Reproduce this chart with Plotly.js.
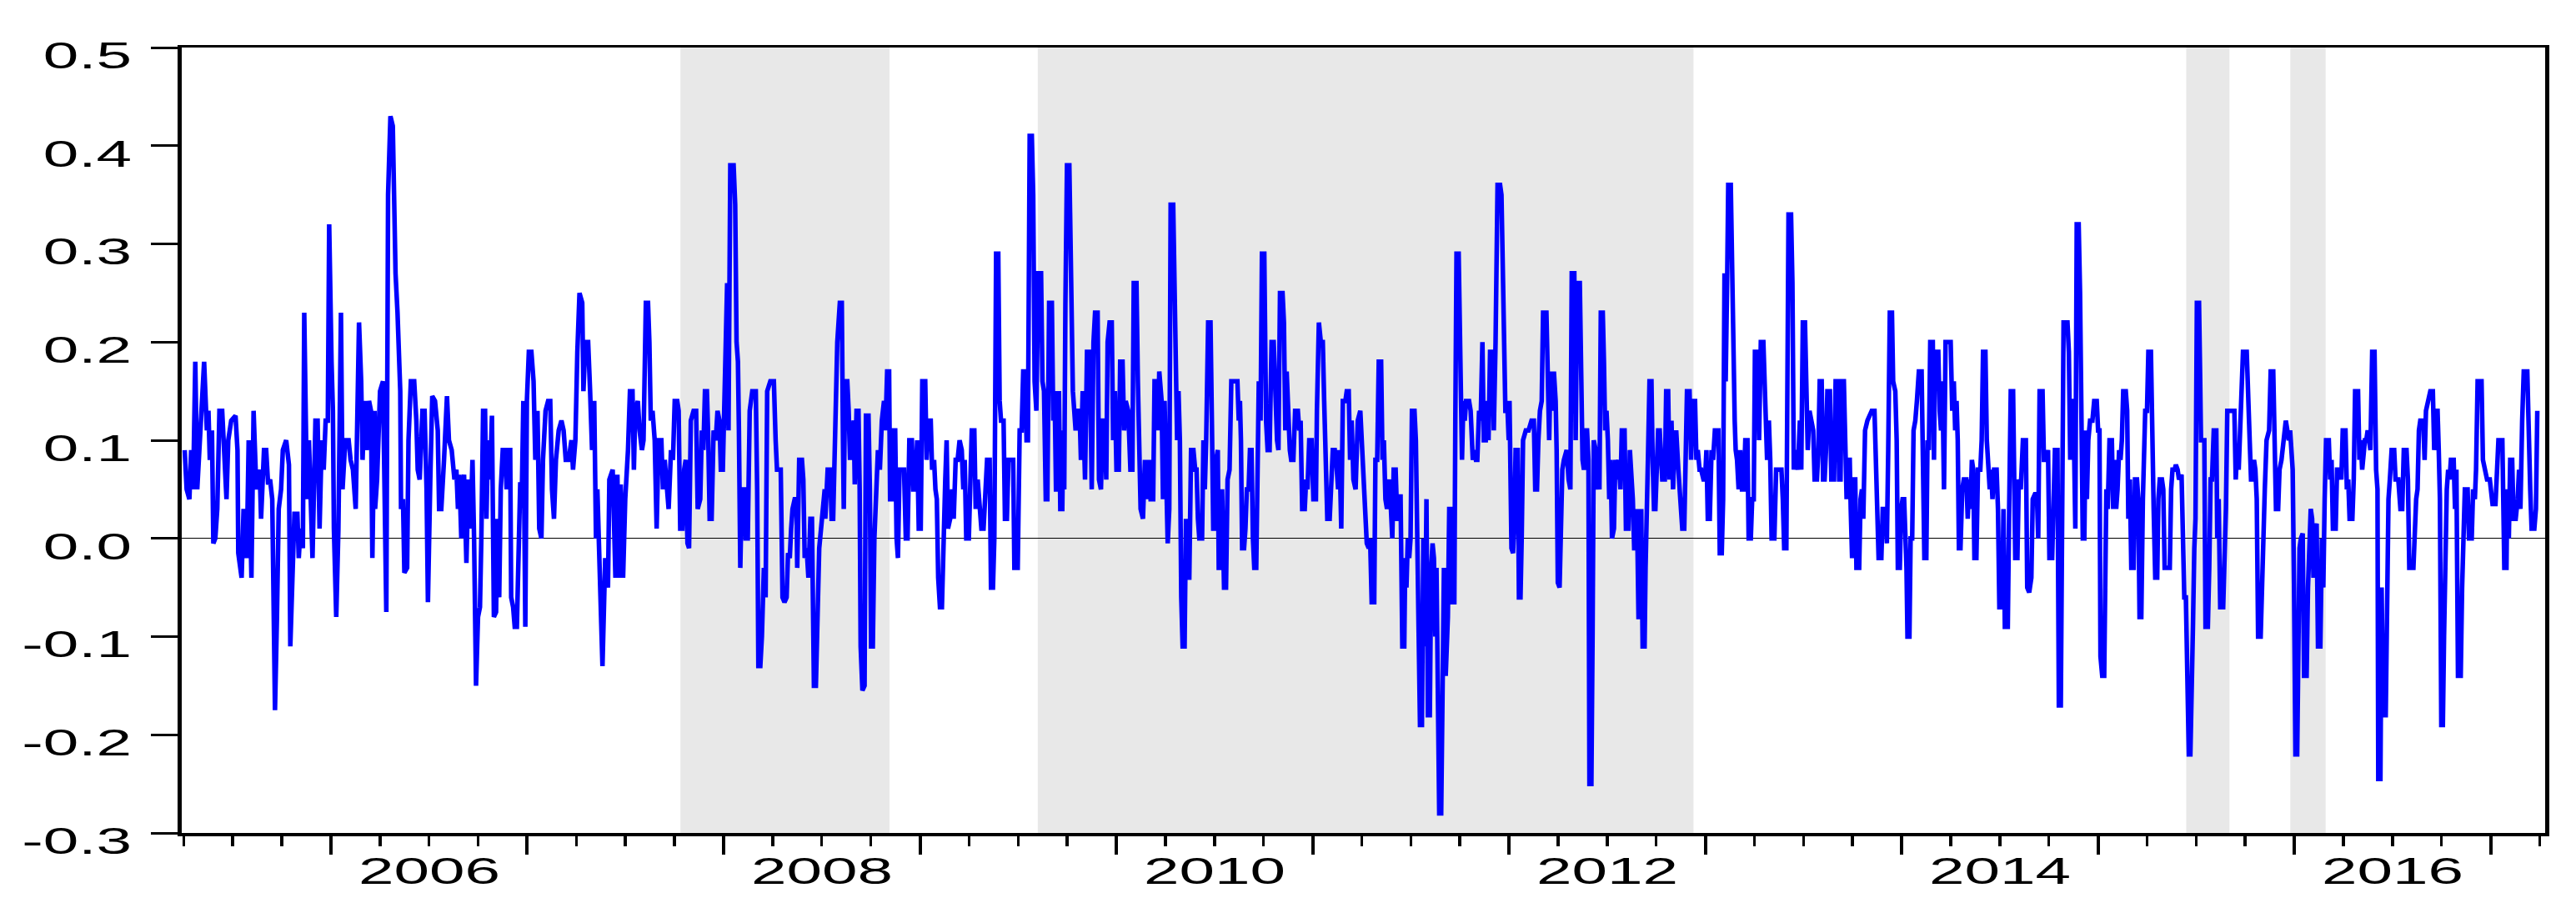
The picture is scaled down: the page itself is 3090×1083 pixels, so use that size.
<!DOCTYPE html>
<html>
<head>
<meta charset="utf-8">
<script src="https://cdn.plot.ly/plotly-3.0.1.min.js"></script>
<style>
  body { margin: 0; background: #fff; }
</style>
</head>
<body>
<div id="chart" style="width:3090px;height:1083px;"></div>
<script>
var obsTime = [
  2005.255,2005.265,2005.279,2005.288,2005.298,2005.309,2005.319,2005.333,2005.354,2005.368,2005.376,2005.383,2005.394,2005.401,2005.411,2005.421,2005.432,2005.446,2005.458,2005.468,2005.477,2005.492,2005.514,2005.524,2005.528,2005.545,2005.555,2005.567,2005.571,2005.581,2005.595,2005.606,2005.620,2005.637,2005.644,2005.659,2005.670,2005.680,2005.690,2005.701,2005.708,2005.715,2005.725,2005.734,2005.746,2005.755,2005.772,2005.786,2005.793,2005.803,2005.814,2005.829,2005.836,2005.845,2005.857,2005.864,2005.878,2005.888,2005.896,2005.906,2005.921,2005.932,2005.942,2005.953,2005.963,2005.973,2005.984,2005.991,
  2006.003,2006.010,2006.015,2006.027,2006.038,2006.051,2006.059,2006.073,2006.090,2006.100,2006.112,2006.126,2006.143,2006.154,2006.161,2006.171,2006.182,2006.194,2006.204,2006.211,2006.222,
  2006.225,2006.235,2006.250,2006.265,2006.282,2006.291,2006.303,2006.315,2006.322,2006.329,2006.339,2006.346,2006.353,2006.357,2006.367,2006.374,2006.388,2006.395,2006.407,2006.424,2006.435,2006.442,2006.452,2006.466,2006.477,2006.487,2006.494,2006.506,2006.516,2006.530,2006.544,2006.551,2006.562,2006.576,2006.591,2006.601,2006.615,2006.629,2006.639,2006.647,2006.654,2006.664,2006.678,2006.690,2006.700,2006.710,2006.721,2006.729,2006.739,2006.749,2006.759,2006.766,2006.775,2006.785,2006.792,2006.800,2006.810,2006.820,2006.830,2006.841,2006.848,2006.857,2006.865,2006.875,2006.886,2006.895,2006.905,2006.913,2006.918,2006.928,2006.936,2006.947,2006.956,2006.964,2006.973,2006.980,2006.990,2006.998,
  2007.008,2007.021,2007.032,2007.041,2007.052,2007.061,2007.072,2007.080,2007.093,2007.106,2007.117,2007.126,2007.136,2007.146,2007.160,2007.174,2007.185,2007.196,2007.211,2007.225,2007.233,2007.245,2007.255,2007.266,2007.280,2007.286,2007.296,2007.310,2007.320,2007.330,2007.341,
  2007.343,2007.350,2007.357,2007.367,2007.383,2007.397,2007.411,2007.418,2007.435,2007.449,2007.459,2007.468,2007.476,2007.488,2007.499,2007.513,2007.523,2007.536,2007.543,2007.550,2007.563,2007.572,2007.584,2007.592,2007.604,2007.615,2007.622,2007.629,2007.638,2007.649,2007.659,2007.669,2007.683,2007.691,2007.700,2007.708,2007.720,2007.732,2007.742,2007.751,2007.764,2007.771,2007.779,2007.790,2007.799,2007.807,2007.816,2007.824,2007.833,2007.847,2007.860,2007.868,2007.881,2007.889,2007.897,2007.905,2007.915,2007.922,2007.929,2007.939,2007.949,2007.960,2007.969,2007.979,2007.986,2007.996,
  2008.003,2008.010,2008.018,2008.025,2008.034,2008.051,2008.059,2008.066,2008.073,2008.078,2008.085,2008.093,2008.105,2008.112,2008.123,2008.133,2008.146,2008.164,2008.171,2008.177,2008.187,2008.195,2008.205,2008.214,2008.222,2008.238,2008.256,2008.265,2008.272,2008.291,2008.300,2008.310,2008.321,2008.328,2008.337,2008.344,2008.351,2008.362,2008.371,2008.375,2008.385,2008.399,2008.406,2008.413,2008.423,2008.432,2008.442,2008.450,2008.460,2008.470,2008.478,2008.487,2008.501,2008.515,
  2008.518,2008.530,2008.543,2008.550,2008.558,2008.565,2008.572,2008.579,2008.592,2008.602,2008.608,2008.612,2008.619,2008.630,2008.637,2008.644,2008.656,2008.663,2008.668,2008.677,2008.687,2008.693,2008.698,2008.707,2008.718,2008.725,2008.738,2008.745,2008.751,2008.760,2008.768,2008.777,2008.786,2008.796,2008.806,2008.817,2008.824,2008.833,2008.843,2008.848,2008.858,2008.864,2008.874,2008.881,2008.888,2008.896,2008.911,2008.919,2008.928,2008.937,2008.946,2008.959,2008.966,2008.976,2008.986,2008.994,
  2009.004,2009.012,2009.027,2009.034,2009.042,2009.055,2009.062,2009.072,2009.079,2009.086,2009.093,2009.102,2009.112,2009.120,2009.129,2009.136,2009.143,2009.154,2009.164,2009.172,2009.182,2009.192,2009.202,2009.213,2009.221,2009.228,2009.236,2009.249,2009.256,2009.264,2009.277,2009.284,2009.294,2009.303,2009.313,2009.324,2009.334,2009.342,2009.355,2009.362,2009.372,2009.379,2009.388,2009.399,2009.406,2009.413,2009.426,2009.433,2009.443,2009.451,2009.465,2009.475,2009.481,2009.498,2009.508,2009.518,2009.526,2009.536,2009.543,2009.550,2009.559,2009.570,2009.577,2009.584,2009.593,2009.603,2009.617,2009.624,2009.632,2009.641,2009.649,2009.658,
  2009.672,2009.679,2009.686,2009.693,2009.703,2009.708,2009.715,2009.725,2009.730,2009.735,2009.741,2009.749,2009.761,2009.766,2009.772,2009.779,2009.786,2009.793,2009.800,2009.813,2009.820,2009.829,2009.841,2009.851,2009.865,2009.875,2009.884,2009.892,2009.905,2009.912,2009.922,2009.931,2009.940,2009.949,2009.956,2009.966,2009.977,2009.984,2009.993,
  2010.001,2010.013,2010.020,2010.032,2010.040,2010.048,2010.061,2010.072,2010.082,2010.089,2010.103,2010.110,2010.117,2010.124,2010.136,2010.146,2010.157,2010.167,2010.175,2010.188,2010.195,2010.207,2010.212,2010.219,2010.231,2010.238,2010.246,2010.255,2010.262,2010.270,2010.277,2010.290,2010.296,2010.303,2010.310,2010.317,2010.324,2010.331,2010.338,2010.348,2010.355,2010.362,2010.372,2010.381,2010.393,2010.402,2010.409,2010.416,2010.423,2010.437,2010.444,2010.451,2010.458,2010.468,2010.480,2010.487,2010.494,2010.502,2010.509,2010.517,2010.522,2010.532,2010.539,2010.549,2010.559,2010.567,2010.577,2010.586,2010.601,2010.617,2010.624,2010.630,2010.635,2010.641,2010.651,2010.658,2010.665,2010.674,2010.681,2010.689,2010.696,2010.703,2010.713,2010.720,2010.726,2010.735,2010.742,2010.754,2010.763,2010.771,2010.781,2010.791,2010.802,
  2010.819,2010.826,2010.834,2010.847,2010.854,2010.861,2010.868,2010.877,2010.884,2010.891,2010.902,2010.911,2010.925,2010.932,2010.939,2010.947,2010.960,2010.967,2010.974,2010.983,2010.995,
  2011.004,2011.017,2011.022,2011.032,2011.042,2011.052,2011.059,2011.066,2011.075,2011.087,2011.095,2011.103,2011.113,2011.120,2011.130,2011.137,2011.146,2011.154,2011.167,2011.174,2011.184,2011.191,2011.199,2011.208,2011.219,2011.230,2011.243,2011.250,2011.257,2011.266,2011.276,2011.286,2011.293,2011.301,2011.314,2011.320,2011.329,2011.337,2011.349,2011.356,2011.363,2011.371,2011.379,2011.392,2011.399,2011.406,2011.413,2011.423,2011.431,2011.441,2011.448,2011.457,2011.467,2011.472,2011.478,2011.485,2011.492,2011.499,2011.506,2011.519,2011.526,2011.533,2011.540,2011.547,2011.557,2011.564,2011.573,2011.580,2011.587,2011.597,2011.604,2011.611,2011.618,2011.625,2011.631,2011.638,2011.645,2011.655,2011.662,2011.669,2011.678,2011.689,2011.696,2011.705,2011.712,2011.722,2011.727,2011.733,2011.744,2011.750,2011.756,2011.761,2011.768,2011.775,2011.782,2011.797,2011.805,2011.816,2011.825,2011.832,2011.839,2011.848,2011.856,2011.865,2011.872,2011.882,2011.889,2011.896,2011.904,2011.916,2011.923,2011.932,2011.942,2011.955,
  2011.962,2011.972,2011.976,2011.982,2011.993,2011.999,2012.003,2012.007,2012.013,2012.021,2012.028,2012.034,2012.045,2012.051,2012.059,2012.065,2012.072,2012.086,2012.100,2012.115,2012.127,2012.134,2012.143,2012.150,2012.158,2012.167,2012.174,2012.191,2012.198,2012.205,2012.212,2012.221,2012.229,2012.238,2012.243,2012.249,2012.258,2012.265,2012.272,2012.280,2012.294,2012.304,2012.313,2012.320,2012.333,2012.340,2012.348,2012.361,2012.368,2012.375,2012.382,2012.391,2012.398,2012.405,2012.410,2012.420,2012.426,2012.432,2012.442,2012.447,2012.454,2012.461,2012.468,2012.478,2012.484,2012.490,2012.497,2012.504,2012.511,2012.518,2012.525,2012.535,2012.542,2012.552,2012.559,2012.568,2012.575,2012.589,2012.596,2012.609,2012.616,2012.624,2012.631,2012.638,2012.647,2012.652,2012.660,2012.668,2012.674,2012.681,2012.691,2012.696,2012.702,2012.709,2012.716,2012.726,2012.732,2012.739,2012.746,2012.753,2012.760,2012.768,2012.774,2012.781,2012.794,2012.801,2012.811,2012.818,2012.828,2012.836,2012.844,2012.852,2012.863,2012.875,2012.883,2012.893,2012.900,2012.907,2012.920,2012.928,2012.936,2012.948,2012.955,2012.962,2012.971,2012.979,2012.991,2012.999,
  2013.006,2013.013,2013.023,2013.032,2013.040,2013.049,2013.067,2013.074,2013.084,2013.091,2013.098,
  2013.104,2013.112,2013.117,2013.130,2013.136,2013.140,2013.144,2013.150,2013.155,2013.162,2013.170,2013.178,2013.187,2013.196,2013.204,2013.215,2013.221,2013.232,2013.239,2013.247,2013.253,2013.267,2013.274,2013.283,2013.296,2013.303,2013.310,2013.315,2013.324,2013.331,2013.338,2013.352,2013.361,2013.373,2013.388,2013.395,2013.402,2013.413,2013.417,2013.424,2013.437,2013.444,2013.451,2013.461,2013.472,2013.482,2013.489,2013.497,2013.508,2013.515,2013.522,2013.531,2013.539,2013.550,2013.557,2013.569,2013.576,2013.583,2013.593,2013.600,2013.608,2013.615,2013.622,2013.635,2013.642,2013.656,2013.664,2013.676,2013.682,2013.689,2013.695,2013.706,2013.713,2013.720,2013.727,2013.736,2013.741,2013.748,2013.756,2013.764,2013.770,2013.784,2013.791,2013.798,2013.805,2013.814,2013.826,2013.848,2013.862,2013.869,2013.876,2013.883,2013.897,2013.904,2013.918,2013.925,2013.932,2013.940,2013.951,2013.957,2013.968,2013.975,2013.981,2013.991,2013.998,
  2014.005,2014.013,2014.020,2014.025,2014.030,2014.040,2014.046,2014.054,2014.061,2014.070,2014.078,2014.088,2014.102,2014.109,2014.116,2014.126,2014.132,2014.139,2014.146,2014.159,2014.165,2014.170,2014.187,2014.194,2014.201,2014.208,2014.216,2014.224,2014.244,
  2014.250,2014.258,2014.266,2014.273,2014.280,2014.286,2014.292,2014.300,2014.309,2014.317,2014.330,2014.337,2014.344,2014.351,2014.358,2014.365,2014.371,2014.381,2014.389,2014.401,2014.408,2014.415,2014.427,2014.434,2014.442,2014.449,2014.456,2014.463,2014.471,2014.484,2014.491,2014.498,2014.512,2014.519,2014.526,2014.541,2014.548,2014.556,2014.568,2014.573,2014.579,2014.590,2014.597,2014.607,2014.618,2014.633,2014.640,2014.650,2014.661,2014.668,2014.679,2014.689,2014.696,2014.703,2014.718,2014.725,2014.735,2014.746,2014.753,2014.767,2014.774,2014.781,2014.794,2014.801,2014.811,2014.818,2014.825,2014.845,2014.852,2014.859,2014.866,2014.875,2014.880,2014.885,2014.892,2014.902,2014.909,2014.916,2014.923,2014.931,2014.937,2014.944,2014.951,2014.960,2014.972,2014.981,2014.994,
  2015.001,2015.008,2015.013,2015.022,2015.032,2015.037,2015.043,2015.050,2015.059,2015.071,2015.078,2015.086,2015.093,2015.100,2015.108,2015.115,2015.122,2015.129,2015.142,2015.149,2015.155,2015.163,2015.170,2015.182,2015.189,2015.199,2015.206,2015.212,2015.221,2015.229,2015.236,2015.241,2015.250,2015.257,2015.270,2015.277,2015.284,2015.292,2015.302,2015.308,2015.315,2015.326,2015.333,2015.340,2015.357,2015.366,2015.373,2015.380,2015.391,
  2015.397,2015.406,2015.413,2015.426,2015.433,2015.440,2015.448,2015.454,2015.463,2015.471,2015.477,2015.484,2015.491,2015.497,2015.504,2015.515,2015.521,2015.525,2015.535,2015.542,2015.548,2015.560,2015.567,2015.574,2015.581,2015.590,2015.603,2015.608,2015.615,2015.623,2015.638,2015.645,2015.652,2015.659,2015.695,2015.702,2015.709,2015.717,2015.724,2015.732,2015.739,2015.758,2015.765,2015.773,2015.780,2015.788,2015.795,2015.802,2015.809,2015.816,2015.829,2015.836,2015.843,2015.850,2015.859,2015.872,2015.880,2015.893,2015.900,2015.907,2015.918,2015.925,2015.935,2015.947,2015.957,2015.965,2015.972,2015.979,2015.986,2015.992,2015.999,
  2016.006,2016.015,2016.020,2016.027,2016.034,2016.043,2016.050,2016.063,2016.070,2016.077,2016.084,2016.091,2016.098,2016.105,2016.114,2016.121,2016.133,2016.141,2016.148,2016.155,2016.162,2016.176,2016.183,2016.190,2016.197,2016.211,2016.218,2016.233,2016.240,2016.247,2016.261,2016.268,2016.275,2016.282,2016.296,2016.303,2016.310,2016.325,2016.332,2016.339,2016.346,2016.360,2016.367,2016.374,2016.388,2016.397,2016.409,2016.417,2016.424,2016.428,2016.439,2016.445,2016.453,2016.466,2016.473,2016.480,2016.487,2016.496,2016.509,2016.516,2016.530,2016.541,
  2016.550,2016.558,2016.572,2016.579,2016.586,2016.607,2016.621,2016.628,2016.635,2016.642,2016.657,2016.664,2016.671,2016.685,2016.693,2016.706,2016.713,2016.722,2016.730,2016.736,2016.742,2016.749,2016.757,2016.763,2016.770,2016.777,2016.784,2016.791,2016.798,2016.812,2016.819,2016.826,2016.834,2016.848,2016.855,2016.862,2016.869,2016.883,2016.890,2016.904,2016.911,2016.920,2016.926,2016.934,2016.954,2016.961,2016.971,2016.982,2016.996,
  2017.003,2017.010,2017.025,2017.033,2017.040,2017.060,2017.064,2017.070,2017.081,2017.085,2017.093,2017.100,2017.110,2017.117,2017.128,2017.138,2017.145,2017.152,2017.161,2017.169,2017.187,2017.194,2017.202,2017.209,2017.223,2017.231,2017.238
];

var obsValue = [
  0.09,0.05,0.04,0.09,0.05,0.18,0.05,0.11,0.18,0.11,0.13,0.08,0.11,-0.005,0.0,0.03,0.13,0.13,0.08,0.04,0.1,0.12,0.125,0.09,-0.015,-0.04,0.03,0.0,-0.02,0.10,-0.04,0.13,0.05,0.07,0.02,0.09,0.09,0.055,0.06,0.04,-0.06,-0.175,-0.08,0.03,0.05,0.09,0.1,0.075,-0.11,-0.05,0.025,0.025,-0.02,0.01,-0.01,0.23,0.04,0.1,0.03,-0.02,0.12,0.12,0.01,0.1,0.07,0.12,0.12,0.32,
  0.18,0.13,0.01,-0.08,0.01,0.23,0.05,0.1,0.1,0.08,0.07,0.03,0.22,0.16,0.08,0.14,0.09,0.14,0.13,-0.02,0.13,
  0.03,0.06,0.15,0.16,-0.075,0.35,0.43,0.42,0.3,0.27,0.23,0.19,0.15,0.03,0.04,-0.035,-0.03,0.1,0.16,0.16,0.12,0.07,0.06,0.13,0.13,0.05,-0.065,0.06,0.145,0.14,0.11,0.03,0.03,0.08,0.145,0.1,0.09,0.06,0.07,0.03,0.065,0.0,0.065,-0.025,0.06,0.01,0.08,0.0,-0.15,-0.08,-0.07,0.0,0.13,0.13,0.02,0.1,0.06,0.125,-0.08,-0.075,0.02,-0.06,0.05,0.09,0.09,0.05,0.09,0.09,-0.06,-0.07,-0.09,-0.09,-0.02,0.055,0.055,0.14,-0.09,0.14,
  0.19,0.19,0.16,0.08,0.13,0.01,0.0,0.08,0.13,0.14,0.14,0.05,0.02,0.08,0.11,0.12,0.11,0.08,0.08,0.10,0.07,0.10,0.19,0.25,0.24,0.15,0.20,0.2,0.15,0.09,0.14,
  0.08,0.0,0.05,-0.03,-0.13,-0.02,-0.05,0.06,0.07,-0.04,0.065,-0.04,0.055,-0.04,0.04,0.09,0.15,0.15,0.07,0.13,0.14,0.11,0.09,0.1,0.24,0.24,0.2,0.12,0.13,0.1,0.01,0.1,0.1,0.05,0.08,0.06,0.03,0.09,0.08,0.14,0.14,0.13,0.01,0.01,0.07,0.08,-0.005,-0.01,0.12,0.13,0.13,0.03,0.04,0.11,0.09,0.15,0.15,0.1,0.02,0.02,0.11,0.1,0.13,0.12,0.07,0.07,
  0.14,0.22,0.26,0.11,0.38,0.38,0.34,0.2,0.18,0.11,-0.03,0.05,0.05,0.0,0.0,0.13,0.15,0.15,0.05,-0.13,-0.13,-0.1,-0.03,-0.06,0.15,0.16,0.16,0.1,0.07,0.07,-0.06,-0.065,-0.06,-0.015,-0.02,0.01,0.03,0.04,0.04,-0.03,0.08,0.08,0.06,-0.02,-0.01,-0.04,0.02,0.02,-0.15,-0.15,-0.1,-0.01,0.02,0.05,
  0.02,0.07,0.07,0.02,0.02,0.08,0.16,0.2,0.24,0.24,0.1,0.03,0.16,0.16,0.13,0.08,0.11,0.12,0.055,0.13,0.13,0.05,-0.11,-0.155,-0.15,0.125,0.125,0.05,-0.11,-0.11,0.0,0.05,0.09,0.07,0.12,0.14,0.11,0.17,0.17,0.04,0.04,0.11,0.11,0.0,-0.02,0.07,0.07,0.07,0.0,0.0,0.1,0.1,0.05,0.05,0.1,0.01,
  0.01,0.16,0.16,0.08,0.12,0.12,0.07,0.08,0.05,0.04,-0.04,-0.07,-0.07,0.01,0.06,0.1,0.01,0.02,0.05,0.02,0.08,0.08,0.1,0.09,0.05,0.08,0.0,0.0,0.06,0.11,0.11,0.03,0.06,0.03,0.01,0.01,0.05,0.08,0.08,-0.05,-0.05,0.0,0.29,0.29,0.14,0.12,0.12,0.02,0.02,0.08,0.08,0.08,-0.03,-0.03,0.11,0.11,0.17,0.17,0.1,0.1,0.41,0.41,0.35,0.16,0.13,0.27,0.27,0.16,0.15,0.04,0.04,0.24,
  0.24,0.12,0.15,0.05,0.05,0.15,0.03,0.03,0.11,0.05,0.24,0.38,0.38,0.3,0.17,0.15,0.13,0.11,0.13,0.13,0.08,0.15,0.06,0.19,0.19,0.05,0.2,0.23,0.23,0.06,0.05,0.12,0.12,0.06,0.2,0.22,0.22,0.1,0.15,
  0.07,0.07,0.18,0.18,0.11,0.14,0.13,0.07,0.07,0.26,0.26,0.16,0.11,0.03,0.02,0.08,0.04,0.08,0.04,0.04,0.16,0.16,0.11,0.17,0.14,0.04,0.14,0.05,-0.005,0.03,0.34,0.34,0.28,0.2,0.1,0.15,0.1,-0.06,-0.11,-0.11,0.02,-0.04,-0.04,0.09,0.09,0.07,0.07,0.02,0.0,0.0,0.1,0.05,0.1,0.22,0.22,0.12,0.01,0.01,0.08,0.09,-0.03,-0.03,0.05,-0.05,-0.05,0.06,0.07,0.16,0.16,0.16,0.12,0.14,0.1,-0.01,-0.01,0.01,0.05,0.05,0.09,0.09,0.0,-0.03,-0.03,0.08,0.16,0.12,0.29,0.29,0.12,0.09,0.09,0.2,0.2,
  0.1,0.09,0.25,0.25,0.22,0.11,0.17,0.12,0.09,0.08,0.08,0.13,0.13,0.11,0.12,0.03,0.03,0.06,0.05,0.1,0.1,
  0.04,0.04,0.13,0.22,0.2,0.2,0.14,0.07,0.02,0.02,0.06,0.09,0.09,0.08,0.05,0.09,0.01,0.14,0.14,0.15,0.15,0.08,0.12,0.06,0.05,0.12,0.13,0.1,0.08,0.02,-0.005,-0.01,0.0,-0.065,-0.065,0.08,0.08,0.18,0.18,0.08,0.1,0.04,0.03,0.06,0.01,0.0,0.07,0.07,0.02,0.02,0.045,-0.11,-0.11,-0.02,-0.05,0.0,-0.02,0.0,0.13,0.13,0.1,0.01,-0.06,-0.19,-0.19,0.0,-0.11,0.04,-0.18,-0.18,-0.03,-0.005,-0.02,-0.1,-0.03,-0.17,-0.28,-0.28,-0.14,-0.03,-0.14,-0.08,0.03,0.03,-0.065,-0.065,0.12,0.29,0.29,0.2,0.13,0.08,0.14,0.12,0.14,0.14,0.13,0.08,0.09,0.08,0.08,0.13,0.12,0.2,0.1,0.1,0.14,0.1,0.19,0.19,0.11,0.2,0.36,0.36,
  0.35,0.2,0.15,0.13,0.13,0.1,0.14,0.03,-0.01,-0.015,0.02,0.09,0.09,-0.06,-0.06,0.0,0.1,0.11,0.11,0.12,0.12,0.05,0.05,0.1,0.13,0.14,0.23,0.23,0.16,0.1,0.17,0.13,0.17,0.14,0.09,-0.045,-0.05,0.05,0.07,0.08,0.09,0.06,0.05,0.27,0.27,0.1,0.26,0.26,0.18,0.08,0.07,0.11,0.11,0.08,-0.25,-0.25,-0.1,0.1,0.09,0.05,0.06,0.05,0.23,0.23,0.18,0.11,0.13,0.1,0.04,0.08,0.0,0.01,0.08,0.06,0.08,0.05,0.11,0.11,0.01,0.01,0.09,0.07,0.04,-0.01,-0.01,0.03,-0.08,-0.08,0.03,-0.11,-0.11,-0.03,0.07,0.09,0.16,0.16,0.08,0.03,0.03,0.09,0.11,0.11,0.07,0.06,0.06,0.15,0.15,0.06,0.12,0.05,0.1,0.11,0.07,0.03,0.01,0.01,0.09,0.15,0.15,0.08,0.14,0.14,0.08,0.09,0.07,0.07,0.06,0.06,
  0.09,0.02,0.02,0.09,0.08,0.11,0.11,-0.015,-0.015,0.04,0.27,
  0.16,0.27,0.36,0.36,0.28,0.22,0.13,0.12,0.09,0.08,0.05,0.09,0.05,0.05,0.1,0.1,0.0,0.0,0.04,0.04,0.19,0.19,0.1,0.2,0.2,0.14,0.12,0.08,0.12,0.08,0.0,0.0,0.07,0.07,0.07,0.04,-0.01,-0.01,0.12,0.33,0.33,0.26,0.07,0.09,0.07,0.12,0.07,0.22,0.22,0.15,0.09,0.13,0.12,0.11,0.06,0.06,0.09,0.16,0.16,0.06,0.06,0.09,0.15,0.15,0.06,0.06,0.16,0.16,0.06,0.06,0.16,0.16,0.1,0.04,0.08,0.08,0.03,-0.02,0.06,0.06,-0.03,-0.03,0.04,0.05,0.02,0.11,0.12,0.13,0.13,0.09,0.05,-0.02,-0.02,0.03,0.03,-0.005,0.09,0.23,0.23,0.16,0.15,0.1,-0.03,-0.03,0.03,
  0.04,0.04,0.0,-0.03,-0.1,-0.1,0.0,0.0,0.11,0.12,0.14,0.17,0.17,0.1,-0.02,-0.02,0.1,0.09,0.2,0.2,0.08,0.19,0.19,0.13,0.11,0.16,0.05,0.2,0.2,
  0.2,0.13,0.16,0.11,0.14,0.1,-0.01,-0.01,0.05,0.06,0.06,0.02,0.06,0.03,0.08,0.07,-0.02,-0.02,0.07,0.07,0.1,0.19,0.19,0.1,0.08,0.05,0.07,0.04,0.07,0.07,0.03,-0.07,-0.07,0.03,-0.09,-0.09,0.03,0.15,0.15,0.06,-0.02,-0.02,0.06,0.05,0.1,0.1,-0.05,-0.055,-0.04,0.04,0.045,0.045,0.0,0.15,0.15,0.08,0.08,0.09,-0.02,-0.02,0.07,0.09,0.09,-0.17,-0.17,-0.02,0.22,0.22,0.19,0.08,0.14,0.14,0.04,0.01,0.32,0.32,0.25,0.1,0.0,0.0,0.11,0.04,0.1,0.12,0.12,0.14,0.14,
  0.11,0.11,-0.12,-0.14,-0.14,-0.04,0.05,0.03,0.1,0.1,0.03,0.08,0.03,0.05,0.09,0.08,0.1,0.15,0.15,0.13,0.02,0.06,-0.03,-0.03,0.06,0.06,0.04,-0.08,-0.08,0.04,0.1,0.13,0.13,0.19,0.19,0.07,0.03,-0.04,-0.04,0.04,0.06,0.06,0.05,-0.03,-0.03,-0.03,0.05,0.07,0.07,
  0.075,0.07,0.06,0.065,0.01,-0.06,-0.06,-0.155,-0.22,-0.22,-0.12,-0.09,-0.01,0.02,0.24,0.24,0.16,0.1,0.1,0.1,-0.09,-0.09,-0.03,0.06,0.06,0.11,0.11,0.0,0.04,-0.07,-0.07,-0.02,0.03,0.13,0.13,0.06,0.09,0.07,0.12,0.14,0.19,0.19,0.13,0.1,0.06,0.06,0.08,0.07,0.04,-0.1,-0.1,-0.04,0.0,0.05,0.1,0.11,0.17,0.17,0.1,0.03,0.03,0.07,0.08,0.1,0.12,0.11,0.1,0.11,0.09,0.07,-0.05,
  -0.22,-0.22,-0.15,-0.01,0.0,0.005,-0.14,-0.14,-0.05,0.0,0.03,0.02,-0.04,0.01,0.015,-0.11,-0.11,0.0,-0.05,0.04,0.1,0.1,0.06,0.08,0.01,0.01,0.07,0.07,0.06,0.11,0.11,0.05,0.06,0.02,0.02,0.06,0.15,0.15,0.08,0.1,0.07,0.1,0.1,0.11,0.09,0.19,0.19,0.07,0.05,-0.245,-0.245,-0.05,-0.18,-0.18,-0.05,0.04,0.06,0.09,0.09,0.06,0.06,0.03,
  0.03,0.09,0.09,0.06,-0.03,-0.03,0.04,0.05,0.11,0.12,0.12,0.08,0.13,0.14,0.15,0.15,0.09,0.13,0.13,0.09,0.04,-0.19,-0.19,-0.1,0.0,0.05,0.07,0.06,0.08,0.08,0.03,0.07,-0.14,-0.14,-0.05,0.0,0.05,0.05,0.0,0.0,0.05,0.04,0.07,0.16,0.16,0.08,0.07,0.06,0.06,
  0.05,0.035,0.035,0.06,0.1,0.1,0.05,-0.03,-0.03,0.05,0.0,0.08,0.08,0.02,0.02,0.04,0.07,0.03,0.12,0.17,0.17,0.1,0.05,0.01,0.01,0.03,0.13
];

// shaded periods (decimal years)
var shadeStart = [2007.78, 2009.60, 2015.45, 2015.98];
var shadeEnd   = [2008.845, 2012.94, 2015.67, 2016.16];

// axis ticks
var yearTicks  = [2006, 2007, 2008, 2009, 2010, 2011, 2012, 2013, 2014, 2015, 2016, 2017];
var yearLabels = ['2006', '', '2008', '', '2010', '', '2012', '', '2014', '', '2016', ''];
var valueTicks = [-0.3, -0.2, -0.1, 0.0, 0.1, 0.2, 0.3, 0.4, 0.5];
var valueLabels = ['-0.3', '-0.2', '-0.1', '0.0', '0.1', '0.2', '0.3', '0.4', '0.5'];

var quarterTicks = [];
for (var q = 2005.25; q <= 2017.25; q += 0.25) {
  if (q % 1 !== 0) quarterTicks.push(q);
}

var shapes = shadeStart.map(function (s, i) {
  return {
    type: 'rect', layer: 'below', xref: 'x', yref: 'paper',
    x0: s, x1: shadeEnd[i], y0: 0, y1: 1,
    fillcolor: '#e8e8e8', line: {width: 0}
  };
});

var trace = {
  x: obsTime,
  y: obsValue,
  mode: 'lines',
  line: {color: 'rgb(0,0,255)', width: 5.5},
  hoverinfo: 'skip'
};

var tickFont = {family: 'Liberation Sans, Arial, sans-serif', size: 45, color: '#000'};

var layout = {
  width: 3090,
  height: 1083,
  margin: {l: 218, r: 37, t: 57, b: 84, pad: 0},
  paper_bgcolor: '#fff',
  plot_bgcolor: '#fff',
  showlegend: false,
  shapes: shapes,
  xaxis: {
    range: [2005.24, 2017.278],
    tickmode: 'array',
    tickvals: yearTicks,
    ticktext: yearLabels,
    ticks: 'outside',
    ticklen: 22,
    tickwidth: 4,
    tickcolor: '#000',
    ticklabelshift: 118,
    ticklabelstandoff: -18,
    tickfont: tickFont,
    showline: true,
    linewidth: 3.5,
    linecolor: '#000',
    mirror: true,
    showgrid: false,
    zeroline: false,
    minor: {
      tickmode: 'array',
      tickvals: quarterTicks,
      ticks: 'outside',
      ticklen: 12,
      tickwidth: 3.5,
      tickcolor: '#000',
      showgrid: false
    }
  },
  yaxis: {
    range: [-0.3, 0.5],
    tickmode: 'array',
    tickvals: valueTicks,
    ticktext: valueLabels,
    ticks: 'outside',
    ticklen: 32,
    tickwidth: 3,
    tickcolor: '#000',
    ticklabelshift: 9,
    ticklabelstandoff: 14,
    tickfont: tickFont,
    showline: true,
    linewidth: 5,
    linecolor: '#000',
    mirror: true,
    showgrid: false,
    zeroline: true,
    zerolinecolor: '#000',
    zerolinewidth: 1
  }
};

// the reference lettering is drawn wide; stretch tick labels sideways about their anchor
var labelStretch = 1.7;

Plotly.newPlot('chart', [trace], layout, {displayModeBar: false, staticPlot: true}).then(function (gd) {
  gd.querySelectorAll('.xtick text, .ytick text').forEach(function (el) {
    if (!el.textContent) return;
    var b = el.getBBox();
    var anchor = el.getAttribute('text-anchor');
    var cx = anchor === 'end' ? b.x + b.width : (anchor === 'start' ? b.x : b.x + b.width / 2);
    var t = el.getAttribute('transform') || '';
    el.setAttribute('transform', t + ' translate(' + cx + ',0) scale(' + labelStretch + ',1) translate(' + (-cx) + ',0)');
  });
});
</script>
</body>
</html>
